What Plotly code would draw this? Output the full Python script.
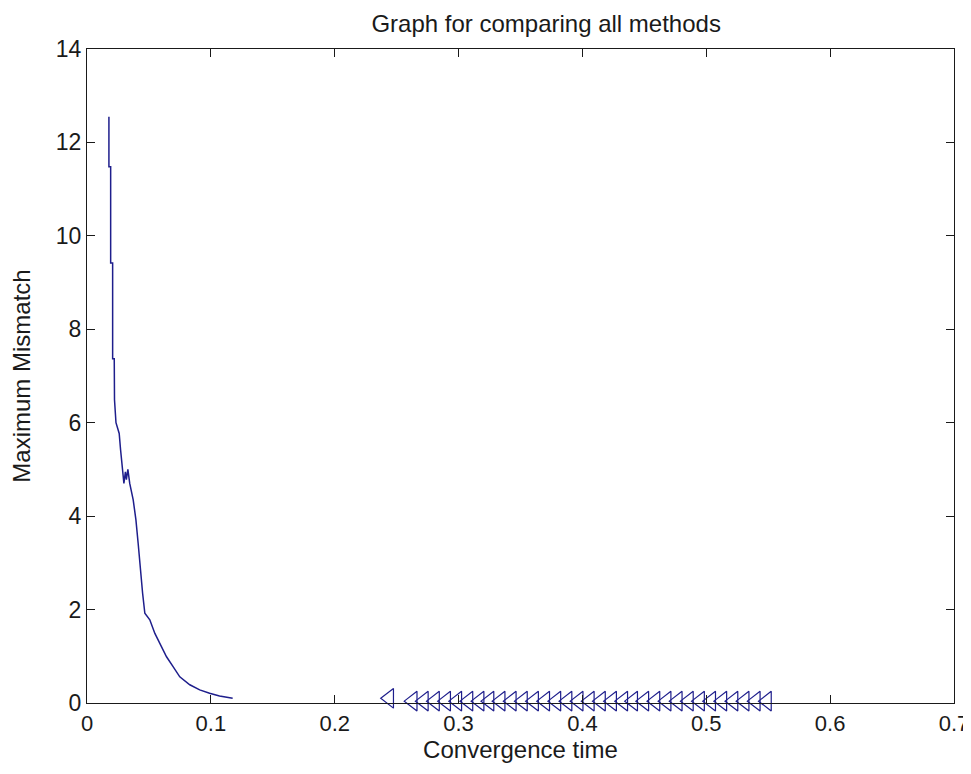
import plotly.graph_objects as go

# Curve: convergence of first method
curve_x = [0.0177, 0.0177, 0.0191, 0.0191, 0.0207, 0.0207, 0.0220, 0.0222, 0.0234, 0.0260,
           0.0271, 0.0287, 0.0298, 0.0310, 0.0318, 0.0330, 0.0345, 0.0373, 0.0395, 0.0413,
           0.0427, 0.0449, 0.0467, 0.0507, 0.0548, 0.0588, 0.0642, 0.0695, 0.0749, 0.0830,
           0.0910, 0.0990, 0.1070, 0.1176]
curve_y = [12.55, 11.48, 11.48, 9.42, 9.42, 7.37, 7.37, 6.49, 6.00, 5.77,
           5.42, 4.99, 4.70, 4.95, 4.78, 5.00, 4.70, 4.35, 3.92, 3.42,
           2.92, 2.35, 1.92, 1.78, 1.49, 1.28, 0.99, 0.78, 0.56, 0.39,
           0.28, 0.21, 0.15, 0.10]

# Triangle-marker method
tri_x = [0.244, 0.263, 0.272, 0.281, 0.290, 0.299, 0.308, 0.317, 0.325, 0.334, 0.343,
         0.352, 0.361, 0.370, 0.379, 0.388, 0.397, 0.406, 0.415, 0.424, 0.433,
         0.441, 0.450, 0.459, 0.468, 0.477, 0.486, 0.495, 0.504, 0.513, 0.522,
         0.531, 0.540, 0.549]
tri_y = [0.10, 0.04, 0.04, 0.04, 0.04, 0.04, 0.04, 0.04, 0.04, 0.04, 0.04,
         0.04, 0.04, 0.04, 0.04, 0.04, 0.04, 0.04, 0.04, 0.04, 0.04,
         0.04, 0.04, 0.04, 0.04, 0.04, 0.04, 0.04, 0.04, 0.04, 0.04,
         0.04, 0.04, 0.04]

x_ticks = [0, 0.1, 0.2, 0.3, 0.4, 0.5, 0.6, 0.7]
y_ticks = [0, 2, 4, 6, 8, 10, 12, 14]

blue = "#1e1e8c"
ink = "#1a1a1a"
font_family = "Liberation Sans, Arial, sans-serif"

fig = go.Figure()
fig.add_trace(go.Scatter(x=curve_x, y=curve_y, mode="lines",
                         line=dict(color=blue, width=1.5), showlegend=False))
fig.add_trace(go.Scatter(x=tri_x, y=tri_y, mode="markers",
                         marker=dict(symbol="triangle-left-open", size=17,
                                     color=blue, line=dict(color=blue, width=1.2)),
                         showlegend=False, cliponaxis=False))

axis_common = dict(showline=True, linecolor=ink, linewidth=1.3, mirror="ticks",
                   ticks="inside", ticklen=8, tickwidth=1.3, tickcolor=ink,
                   showgrid=False, zeroline=False, automargin=False,
                   ticklabeloverflow="allow")

# page body has an 8px default margin, so the figure is sized to fit 971x774
fig.update_layout(
    width=963, height=766,
    paper_bgcolor="white", plot_bgcolor="white",
    margin=dict(l=79, r=17, t=41, b=71),
    title=dict(text="Graph for comparing all methods", x=0.5296, xanchor="center",
               xref="paper", y=0.980, yanchor="middle",
               font=dict(family=font_family, size=24, color=ink)),
    xaxis=dict(range=[0, 0.7], tickvals=x_ticks, ticktext=[str(v) for v in x_ticks],
               tickfont=dict(family=font_family, size=22, color=ink),
               title=dict(text="Convergence time", standoff=6,
                          font=dict(family=font_family, size=24, color=ink)),
               **axis_common),
    yaxis=dict(range=[0, 14], tickvals=y_ticks, ticktext=[str(v) for v in y_ticks],
               tickfont=dict(family=font_family, size=23, color=ink),
               title=dict(text="Maximum Mismatch", standoff=18,
                          font=dict(family=font_family, size=24, color=ink)),
               **axis_common),
)

fig.write_html("out.html")
